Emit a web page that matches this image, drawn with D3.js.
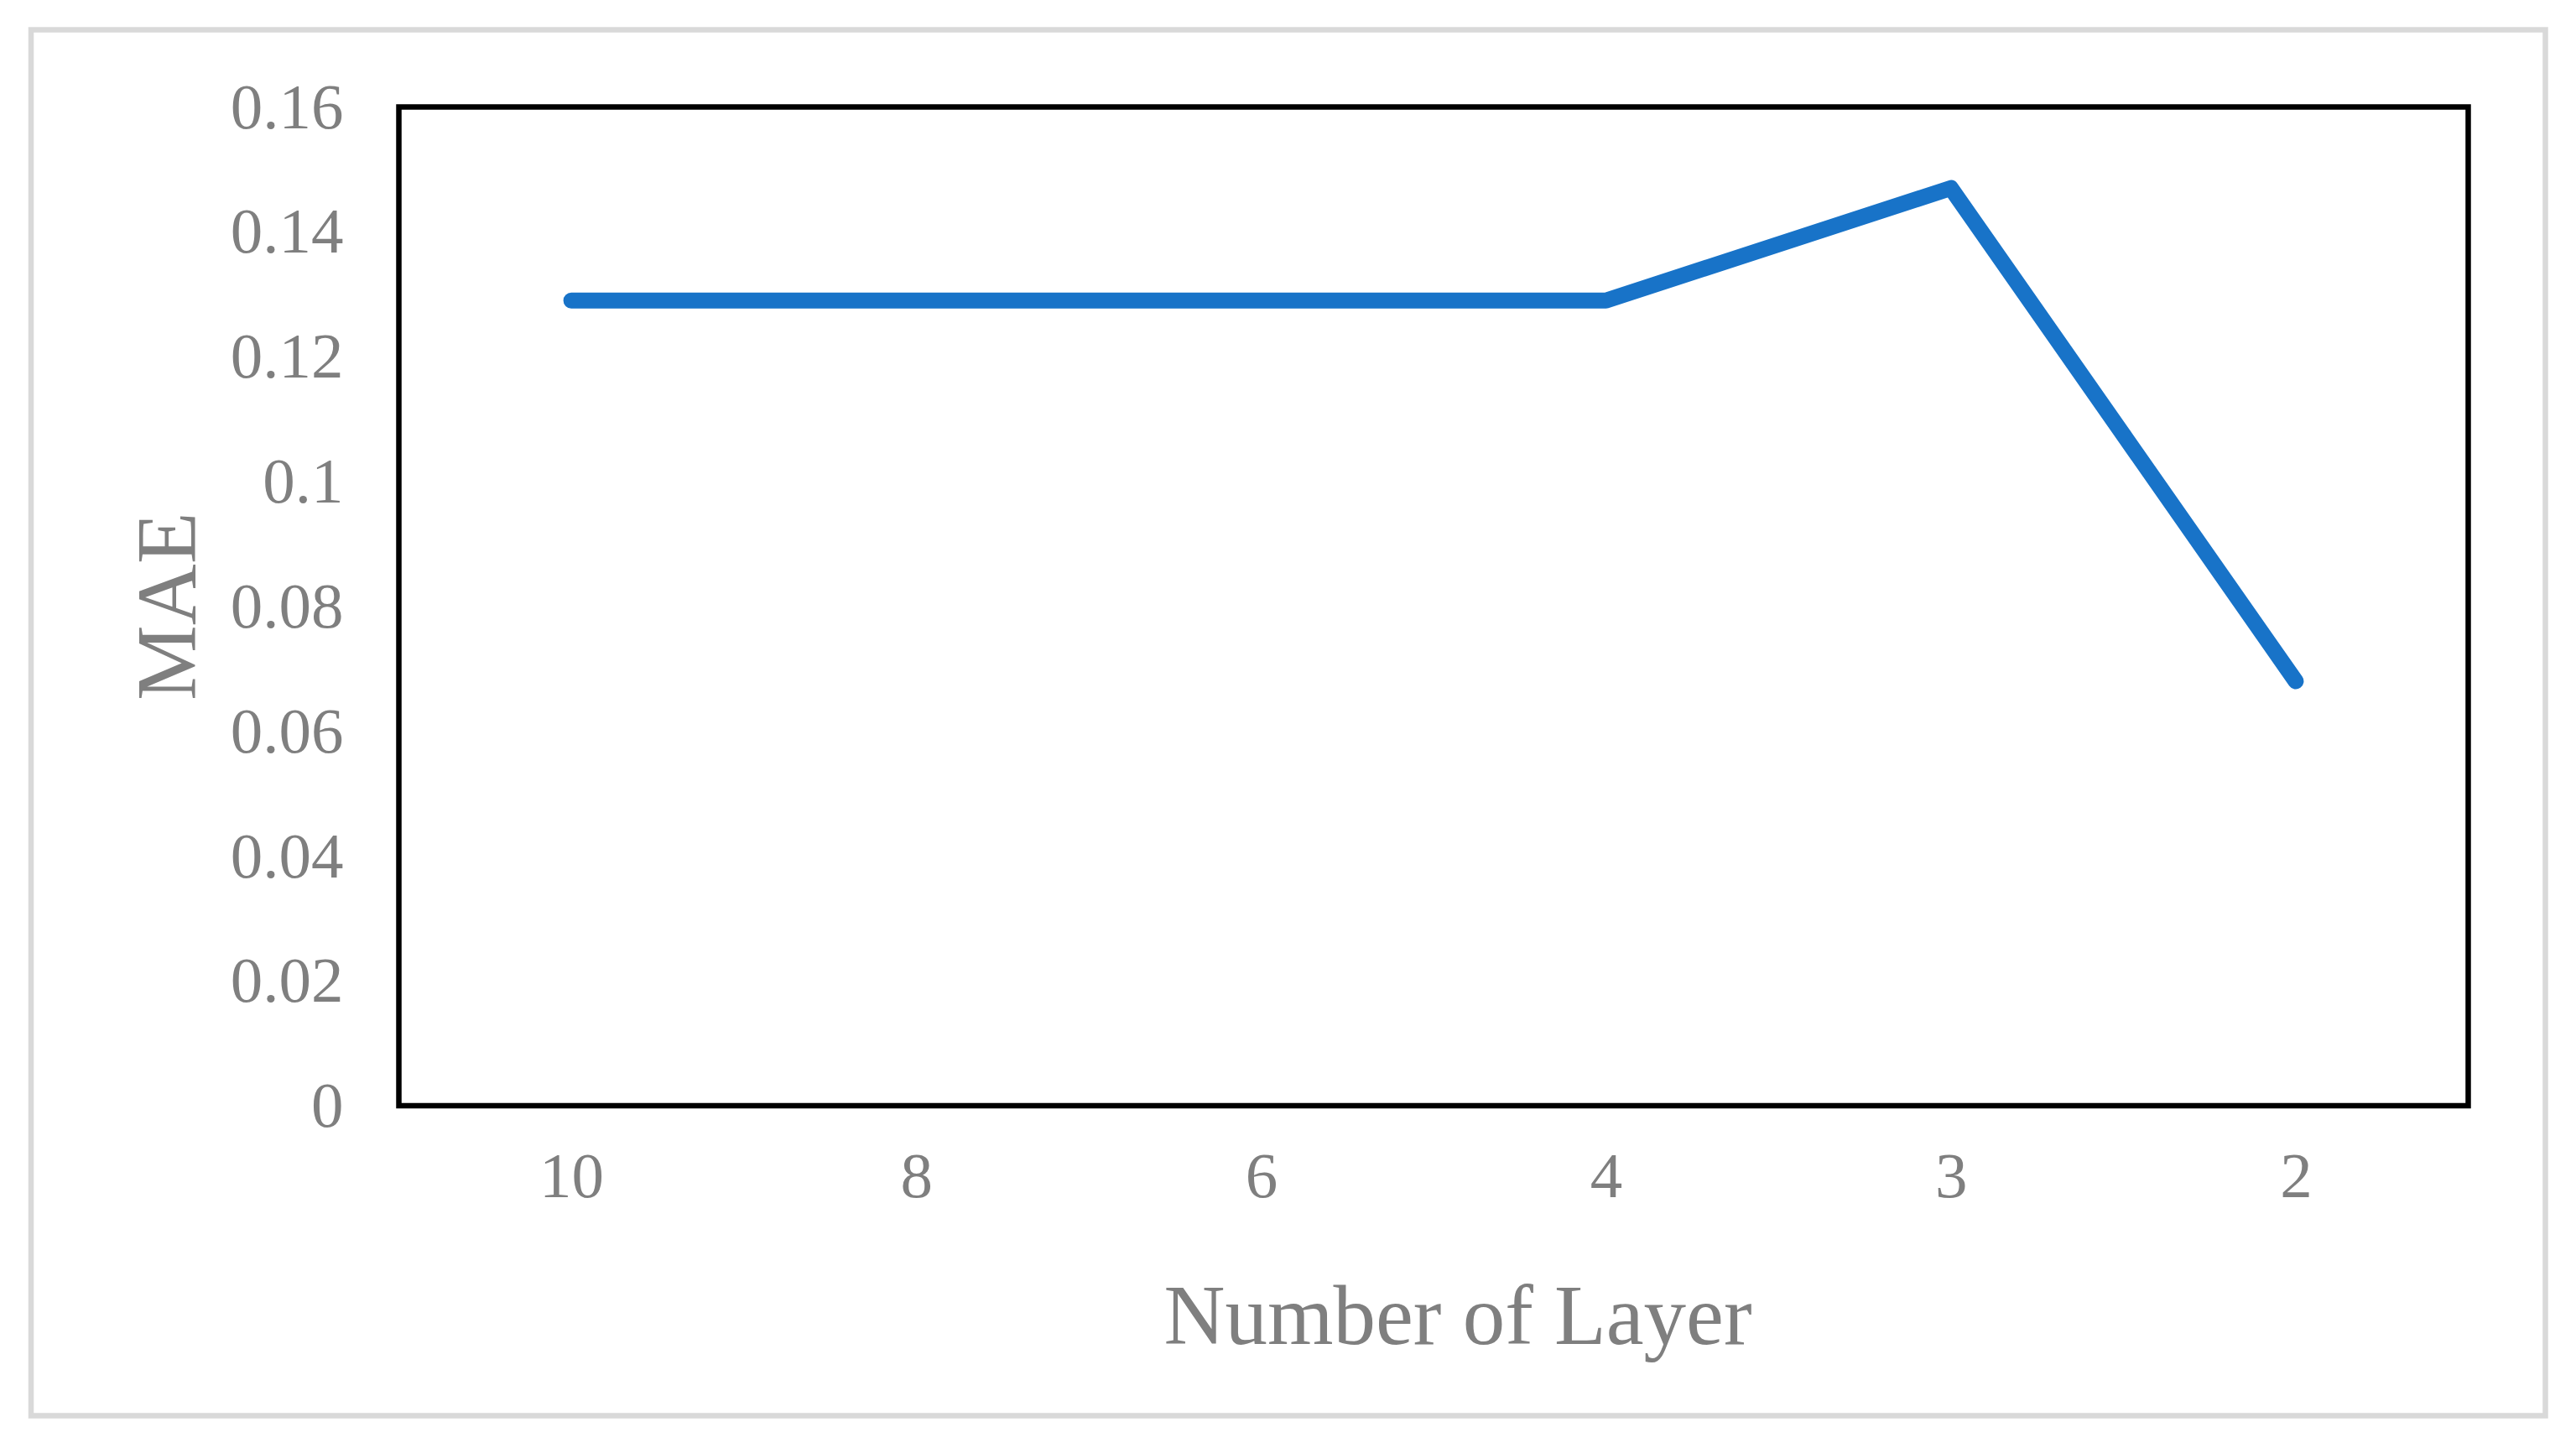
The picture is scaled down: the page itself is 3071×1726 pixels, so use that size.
<!DOCTYPE html>
<html>
<head>
<meta charset="utf-8">
<script src="https://cdn.jsdelivr.net/npm/d3@7"></script>
<style>
  body { margin: 0; background: #fff; }
  .axis text { font-family: "Liberation Serif", "Times New Roman", serif; fill: #7f7f7f; }
  .axis .domain, .axis line { display: none; }
  .title { font-family: "Liberation Serif", "Times New Roman", serif; fill: #7f7f7f; }
</style>
</head>
<body>
<div class="chart"></div>
<script>
// data
const layers = ["10", "8", "6", "4", "3", "2"]
const mae = [0.129, 0.129, 0.129, 0.129, 0.147, 0.068]
const yTicks = [0, 0.02, 0.04, 0.06, 0.08, 0.1, 0.12, 0.14, 0.16]

const W = 3071, H = 1726
const plot = {left: 475.5, right: 2942.5, top: 127.5, bottom: 1318}

const svg = d3.select('.chart').append('svg')
    .attr('width', W)
    .attr('height', H)

svg.append('rect')
    .attr('width', W).attr('height', H)
    .attr('fill', '#fff')

// outer chart frame
svg.append('rect')
    .attr('x', 37).attr('y', 35.5)
    .attr('width', 3034.5 - 37).attr('height', 1687.5 - 35.5)
    .attr('fill', 'none')
    .attr('stroke', '#d9d9d9')
    .attr('stroke-width', 6.5)

const xScale = d3.scalePoint()
    .domain(layers)
    .range([plot.left, plot.right])
    .padding(0.5)

const yScale = d3.scaleLinear()
    .domain([0, 0.16])
    .range([plot.bottom, plot.top])

const yAxis = d3.axisLeft(yScale)
    .tickValues(yTicks)
    .tickFormat(d => String(+d.toFixed(2)))
    .tickSize(0)
    .tickPadding(66)

const xAxis = d3.axisBottom(xScale)
    .tickSize(0)
    .tickPadding(54)

svg.append('g')
    .attr('class', 'axis y-axis')
    .attr('transform', `translate(${plot.left},0)`)
    .call(yAxis)
    .selectAll('text')
    .style('font-size', '77px')

svg.append('g')
    .attr('class', 'axis x-axis')
    .attr('transform', `translate(0,${plot.bottom})`)
    .call(xAxis)
    .selectAll('text')
    .style('font-size', '77px')

// plot box
svg.append('rect')
    .attr('x', plot.left).attr('y', plot.top)
    .attr('width', plot.right - plot.left)
    .attr('height', plot.bottom - plot.top)
    .attr('fill', 'none')
    .attr('stroke', '#000')
    .attr('stroke-width', 6.5)

const line = d3.line()
    .x((d, i) => xScale(layers[i]))
    .y(d => yScale(d))

svg.append('path')
    .datum(mae)
    .attr('d', line)
    .attr('fill', 'none')
    .attr('stroke', '#1873c8')
    .attr('stroke-width', 19)
    .attr('stroke-linecap', 'round')
    .attr('stroke-linejoin', 'round')

svg.append('text')
    .attr('class', 'title')
    .attr('x', 1738)
    .attr('y', 1602)
    .attr('text-anchor', 'middle')
    .style('font-size', '101px')
    .text('Number of Layer')

svg.append('text')
    .attr('class', 'title')
    .attr('transform', `translate(233,${(plot.top + plot.bottom) / 2}) rotate(-90)`)
    .attr('text-anchor', 'middle')
    .style('font-size', '101px')
    .text('MAE')
</script>
</body>
</html>
